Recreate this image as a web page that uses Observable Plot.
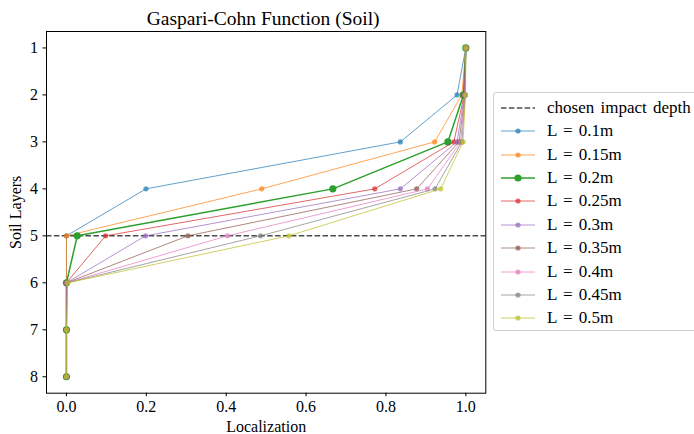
<!DOCTYPE html>
<html>
<head>
<meta charset="utf-8">
<script src="https://cdn.jsdelivr.net/npm/d3@7"></script>
<script src="https://cdn.jsdelivr.net/npm/@observablehq/plot@0.6"></script>
<style>
  html, body { margin: 0; padding: 0; background: #fff; overflow: hidden; }
  #wrap { position: relative; width: 694px; height: 434px; font-family: "Liberation Serif", "DejaVu Serif", serif; }
  #legend { position: absolute; left: 493px; top: 92px; width: 215px; height: 239px; border: 1px solid #d0d0d0; border-radius: 3px; background: rgba(255,255,255,0.85); box-sizing: border-box; }
  .item { position: absolute; left: 6px; height: 20px; display: flex; align-items: center; font-size: 17px; word-spacing: 2px; color: #000; white-space: nowrap; }
  .item svg { width: 36px; height: 20px; margin-right: 11px; }
</style>
</head>
<body>
<div id="wrap"></div>
<script>
const layers = [1, 2, 3, 4, 5, 6, 7, 8];
const seriesNames = ["L = 0.1m", "L = 0.15m", "L = 0.2m", "L = 0.25m", "L = 0.3m", "L = 0.35m", "L = 0.4m", "L = 0.45m", "L = 0.5m"];
const loc_0_10 = [1.0, 0.978, 0.836, 0.199, 0.0, 0.0, 0.0, 0.0];
const loc_0_15 = [1.0, 0.990, 0.922, 0.489, 0.0, 0.0, 0.0, 0.0];
const loc_0_20 = [1.0, 0.994, 0.955, 0.667, 0.027, 0.0, 0.0, 0.0];
const loc_0_25 = [1.0, 0.996, 0.970, 0.772, 0.098, 0.0, 0.0, 0.0];
const loc_0_30 = [1.0, 0.997, 0.978, 0.836, 0.198, 0.0, 0.0, 0.0];
const loc_0_35 = [1.0, 0.998, 0.983, 0.877, 0.304, 0.0, 0.0, 0.0];
const loc_0_40 = [1.0, 0.998, 0.987, 0.904, 0.403, 0.001, 0.0, 0.0];
const loc_0_45 = [1.0, 0.999, 0.990, 0.923, 0.486, 0.002, 0.0, 0.0];
const loc_0_50 = [1.0, 0.999, 0.993, 0.937, 0.557, 0.003, 0.0, 0.0];
const seriesValues = [loc_0_10, loc_0_15, loc_0_20, loc_0_25, loc_0_30, loc_0_35, loc_0_40, loc_0_45, loc_0_50];
const colors = ["#1f77b4", "#ff7f0e", "#2ca02c", "#d62728", "#9467bd", "#8c564b", "#e377c2", "#7f7f7f", "#bcbd22"];
const highlighted = "L = 0.2m";
const impactLayer = 5;
const xTicks = [0, 0.2, 0.4, 0.6, 0.8, 1.0];
const title = "Gaspari-Cohn Function (Soil)";
const impactLabel = "chosen impact depth";

const marks = [];
marks.push(Plot.ruleY([impactLayer], {stroke: "#000", strokeOpacity: 0.7, strokeWidth: 1.5, strokeDasharray: "5.5,2.4"}));
seriesNames.forEach((name, i) => {
  const data = layers.map((l, j) => ({layer: l, value: seriesValues[i][j]}));
  const hi = name === highlighted;
  marks.push(Plot.line(data, {x: "value", y: "layer", stroke: colors[i], strokeWidth: hi ? 1.5 : 1, strokeOpacity: hi ? 1 : 0.7}));
  marks.push(Plot.dot(data, {x: "value", y: "layer", fill: colors[i], r: hi ? 3.6 : 2.6, fillOpacity: hi ? 1 : 0.7, stroke: "none"}));
});
marks.push(Plot.frame({stroke: "#000", strokeWidth: 1}));
marks.push(Plot.text([title], {frameAnchor: "top", lineAnchor: "bottom", dy: -7, dx: -3, fontSize: 19.5, fill: "#000"}));
marks.push(Plot.axisX({ticks: xTicks, tickFormat: d3.format(".1f"), tickSize: 3.5, tickPadding: 4, fontSize: 16, label: "Localization", labelAnchor: "center", labelArrow: "none", labelOffset: 39}));
marks.push(Plot.axisY({ticks: layers, tickFormat: d => String(d), tickSize: 3.5, tickPadding: 5, fontSize: 16, label: "Soil Layers", labelAnchor: "center", labelArrow: "none", labelOffset: 37}));

const chart = Plot.plot({
  width: 694,
  height: 434,
  marginLeft: 46,
  marginRight: 208.7,
  marginTop: 31,
  marginBottom: 41.3,
  style: {fontFamily: "'Liberation Serif', 'DejaVu Serif', serif", fontSize: "17px", color: "#000", background: "#fff", overflow: "visible"},
  x: {domain: [-0.05, 1.05]},
  y: {domain: [0.65, 8.35], reverse: true},
  marks
});
const wrap = document.getElementById("wrap");
wrap.appendChild(chart);

// legend
const legend = document.createElement("div");
legend.id = "legend";
const entries = [{label: impactLabel, dashed: true}].concat(seriesNames.map((n, i) => ({label: n, color: colors[i], hi: n === highlighted})));
entries.forEach((e, k) => {
  const item = document.createElement("div");
  item.className = "item";
  item.style.top = (4.7 + k * 23.4) + "px";
  let svg;
  if (e.dashed) {
    svg = `<svg viewBox="0 0 36 20"><line x1="1" x2="35" y1="10" y2="10" stroke="#000" stroke-opacity="0.7" stroke-width="1.5" stroke-dasharray="5.5,2.4"/></svg>`;
  } else {
    svg = `<svg viewBox="0 0 36 20"><line x1="1" x2="35" y1="10" y2="10" stroke="${e.color}" stroke-opacity="${e.hi ? 1 : 0.7}" stroke-width="${e.hi ? 1.5 : 1}"/><circle cx="18" cy="10" r="${e.hi ? 3.6 : 2.6}" fill="${e.color}" fill-opacity="${e.hi ? 1 : 0.7}"/></svg>`;
  }
  item.innerHTML = svg + `<span>${e.label}</span>`;
  legend.appendChild(item);
});
wrap.appendChild(legend);
</script>
</body>
</html>
